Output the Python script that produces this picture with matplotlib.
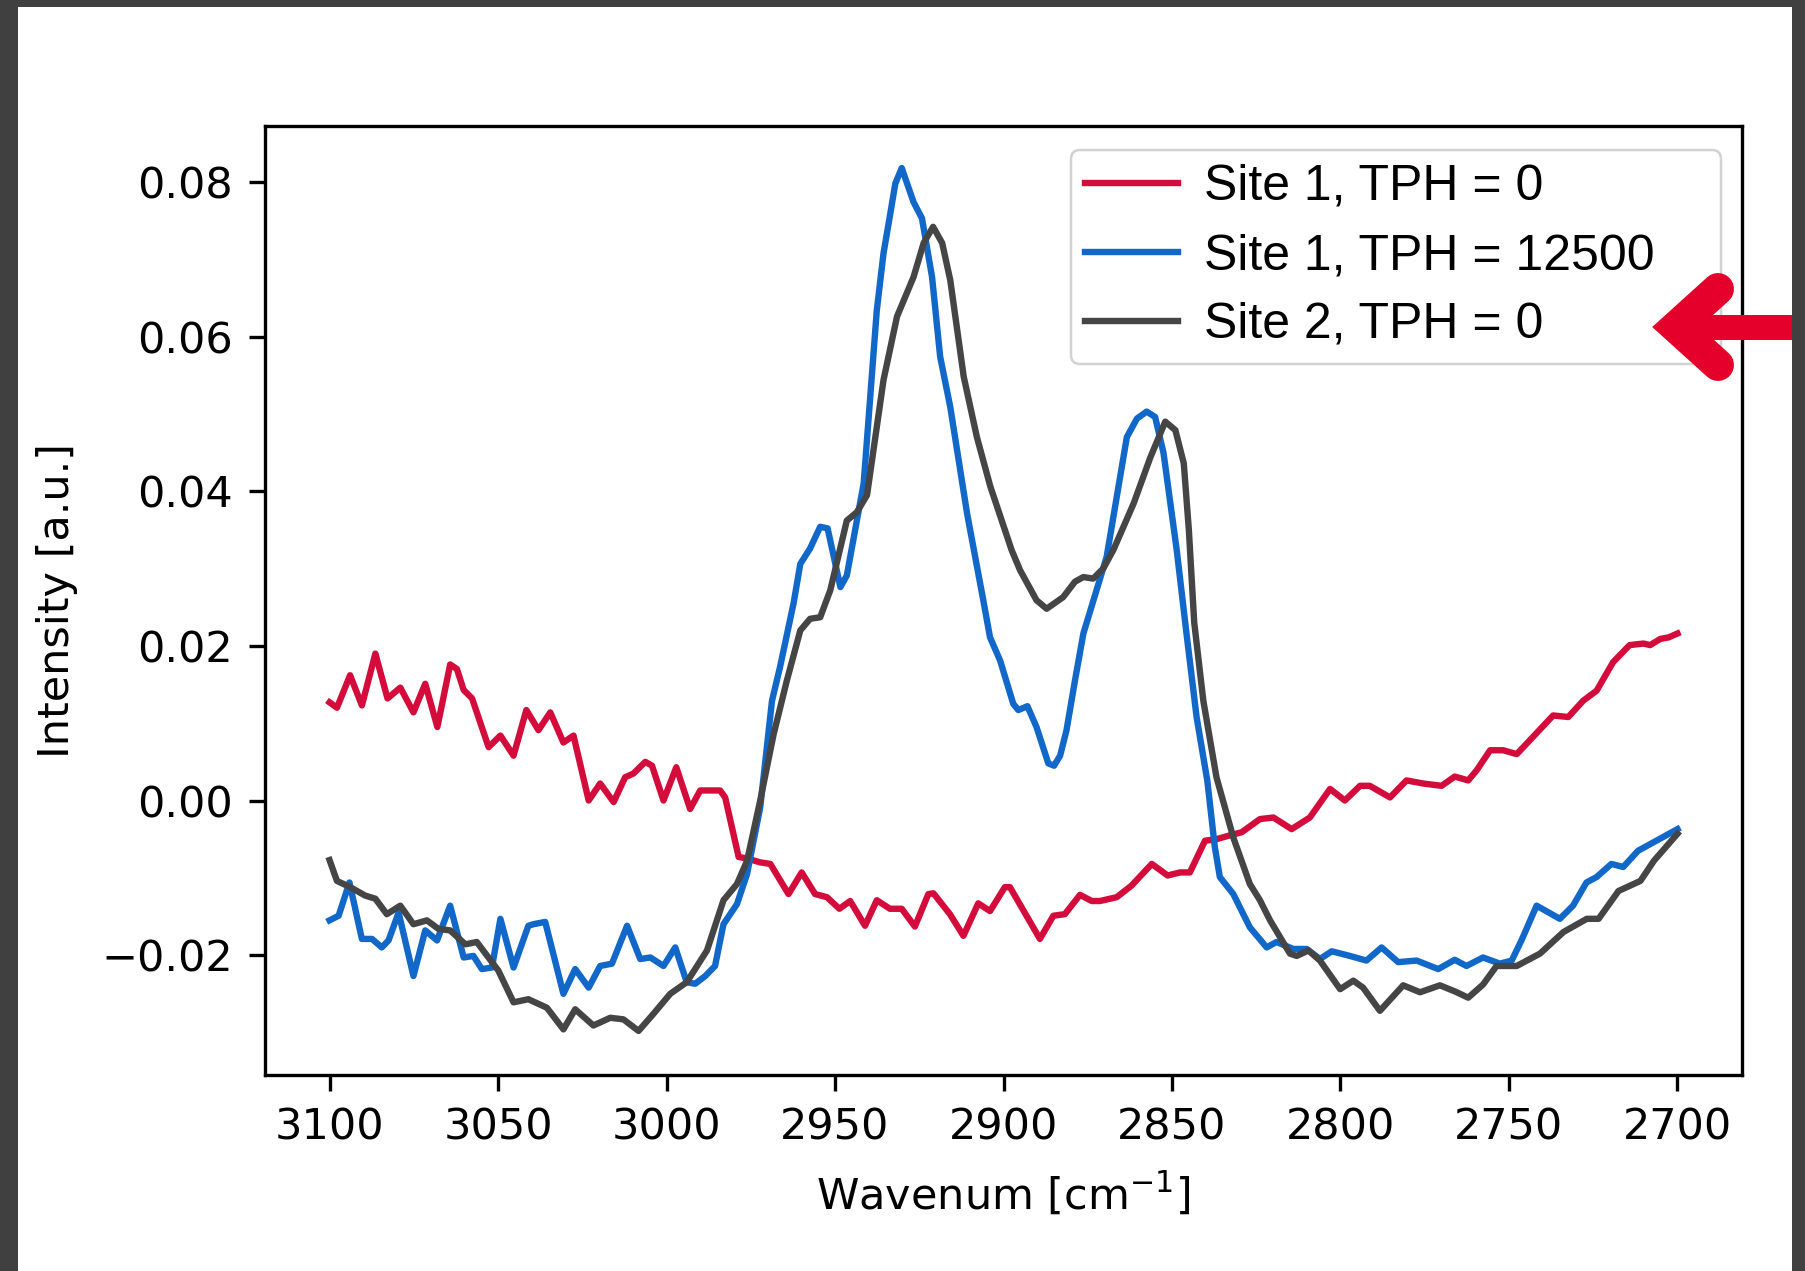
import numpy as np
import matplotlib
matplotlib.use('Agg')
import matplotlib.pyplot as plt
from matplotlib.lines import Line2D
from matplotlib.patches import Rectangle, FancyBboxPatch
from matplotlib.transforms import IdentityTransform


# ---------------- data ----------------
labels = ['Site 1, TPH = 0', 'Site 1, TPH = 12500', 'Site 2, TPH = 0']

red_wn = [3100.0, 3097.8, 3093.9, 3090.4, 3086.4, 3082.8, 3079.0, 3075.1, 3071.6, 3068.0,
          3064.2, 3062.2, 3060.2, 3057.7, 3052.8, 3049.3, 3045.4, 3041.6, 3038.0, 3034.5,
          3030.6, 3027.6, 3023.1, 3019.7, 3015.7, 3012.3, 3009.8, 3006.3, 3004.3, 3000.9,
          2997.1, 2993.0, 2990.0, 2984.1, 2982.6, 2978.6, 2976.1, 2972.2, 2969.2, 2963.8,
          2959.9, 2955.9, 2952.4, 2948.7, 2945.5, 2941.1, 2937.6, 2933.7, 2930.2, 2926.3,
          2922.3, 2920.8, 2915.9, 2911.9, 2907.5, 2904.0, 2899.6, 2898.1, 2889.2, 2885.2,
          2881.8, 2877.3, 2873.8, 2871.4, 2866.4, 2862.0, 2856.0, 2851.3, 2847.6, 2844.7,
          2840.2, 2836.8, 2832.8, 2829.3, 2823.9, 2819.9, 2814.5, 2809.1, 2803.1, 2798.7,
          2794.2, 2791.3, 2785.3, 2780.4, 2775.5, 2770.0, 2766.1, 2762.1, 2759.6, 2755.6,
          2751.7, 2747.7, 2743.8, 2736.9, 2732.4, 2728.0, 2724.0, 2719.1, 2714.2, 2710.1,
          2708.1, 2705.1, 2702.6, 2700.0]
red_val = [0.0127, 0.0120, 0.0162, 0.0123, 0.0190, 0.0132, 0.0146, 0.0114, 0.0151, 0.0095,
           0.0176, 0.0170, 0.0143, 0.0132, 0.0069, 0.0084, 0.0058, 0.0117, 0.0091, 0.0114,
           0.0075, 0.0084, 0.0000, 0.0022, -0.0002, 0.0030, 0.0035, 0.0050, 0.0045, 0.0000,
           0.0043, -0.0011, 0.0013, 0.0013, 0.0004, -0.0073, -0.0075, -0.0080, -0.0082, -0.0121,
           -0.0093, -0.0121, -0.0125, -0.0140, -0.0130, -0.0162, -0.0129, -0.0140, -0.0140, -0.0163,
           -0.0121, -0.0120, -0.0147, -0.0175, -0.0133, -0.0143, -0.0112, -0.0112, -0.0179, -0.0149,
           -0.0147, -0.0122, -0.0130, -0.0130, -0.0125, -0.0110, -0.0082, -0.0097, -0.0093, -0.0093,
           -0.0052, -0.0050, -0.0045, -0.0041, -0.0024, -0.0022, -0.0037, -0.0022, 0.0015, 0.0000,
           0.0019, 0.0019, 0.0004, 0.0026, 0.0022, 0.0019, 0.0031, 0.0026, 0.0039, 0.0065,
           0.0065, 0.0060, 0.0078, 0.0110, 0.0108, 0.0129, 0.0142, 0.0179, 0.0201, 0.0203,
           0.0201, 0.0209, 0.0211, 0.0216]

blue_wn = [3100.0, 3097.3, 3094.1, 3090.4, 3087.4, 3084.5, 3082.5, 3079.5, 3075.1, 3071.6,
           3068.1, 3064.2, 3060.2, 3057.3, 3054.8, 3051.8, 3049.3, 3045.4, 3041.0, 3039.5,
           3036.0, 3030.6, 3027.1, 3023.1, 3019.7, 3016.2, 3011.7, 3007.8, 3004.8, 3000.9,
           2997.4, 2994.0, 2991.5, 2988.5, 2985.6, 2983.1, 2979.1, 2976.1, 2972.2, 2968.7,
           2966.3, 2962.3, 2960.3, 2957.4, 2954.4, 2952.2, 2948.4, 2946.5, 2941.5, 2937.6,
           2935.6, 2933.6, 2932.1, 2930.2, 2926.7, 2924.2, 2921.2, 2918.8, 2915.8, 2910.8,
           2906.0, 2904.0, 2901.0, 2897.1, 2895.6, 2892.9, 2890.2, 2886.7, 2885.0, 2883.2,
           2881.3, 2878.8, 2876.3, 2872.4, 2869.4, 2866.5, 2863.4, 2860.4, 2857.5, 2855.0,
           2852.5, 2848.6, 2845.7, 2842.7, 2839.5, 2837.3, 2835.8, 2831.8, 2826.9, 2821.9,
           2819.0, 2814.0, 2810.0, 2806.1, 2802.6, 2797.2, 2792.3, 2787.8, 2782.9, 2777.4,
           2771.0, 2766.1, 2762.6, 2757.7, 2752.7, 2749.2, 2746.3, 2741.8, 2734.9, 2731.0,
           2727.0, 2724.0, 2719.6, 2716.1, 2711.7, 2707.1, 2700.0]
blue_val = [-0.0155, -0.0149, -0.0106, -0.0179, -0.0179, -0.0190, -0.0181, -0.0145, -0.0227, -0.0168,
            -0.0181, -0.0136, -0.0203, -0.0201, -0.0218, -0.0216, -0.0153, -0.0216, -0.0162, -0.0160,
            -0.0157, -0.0250, -0.0218, -0.0242, -0.0214, -0.0211, -0.0162, -0.0205, -0.0203, -0.0214,
            -0.0190, -0.0235, -0.0237, -0.0227, -0.0214, -0.0160, -0.0134, -0.0095, -0.0009, 0.0129,
            0.0173, 0.0255, 0.0306, 0.0326, 0.0354, 0.0352, 0.0276, 0.0291, 0.0410, 0.0634,
            0.0708, 0.0759, 0.0798, 0.0818, 0.0774, 0.0753, 0.0677, 0.0574, 0.0509, 0.0371,
            0.0259, 0.0211, 0.0181, 0.0125, 0.0117, 0.0122, 0.0095, 0.0048, 0.0045, 0.0058,
            0.0091, 0.0155, 0.0216, 0.0272, 0.0315, 0.0390, 0.0470, 0.0494, 0.0503, 0.0496,
            0.0449, 0.0324, 0.0216, 0.0108, 0.0025, -0.0060, -0.0099, -0.0121, -0.0164, -0.0190,
            -0.0183, -0.0192, -0.0192, -0.0205, -0.0195, -0.0201, -0.0207, -0.0190, -0.0209, -0.0207,
            -0.0218, -0.0206, -0.0214, -0.0203, -0.0211, -0.0207, -0.0181, -0.0136, -0.0153, -0.0136,
            -0.0106, -0.0099, -0.0082, -0.0086, -0.0065, -0.0054, -0.0037]

gray_wn = [3100.0, 3097.8, 3093.9, 3089.4, 3086.4, 3083.0, 3079.0, 3075.1, 3071.1, 3067.7,
           3064.2, 3059.7, 3056.3, 3049.9, 3045.4, 3041.0, 3035.5, 3030.6, 3027.1, 3021.7,
           3016.7, 3012.8, 3008.3, 3003.9, 2998.9, 2994.0, 2988.0, 2983.1, 2979.1, 2976.1,
           2972.2, 2968.2, 2964.3, 2960.3, 2957.4, 2954.4, 2951.4, 2946.5, 2943.5, 2940.5,
           2935.6, 2931.6, 2926.7, 2923.7, 2920.9, 2918.2, 2915.8, 2911.8, 2907.9, 2903.9,
           2897.6, 2895.1, 2890.2, 2887.2, 2882.3, 2878.8, 2876.3, 2873.4, 2870.4, 2867.4,
           2861.4, 2856.4, 2852.0, 2849.0, 2846.5, 2845.0, 2843.4, 2840.7, 2836.8, 2831.8,
           2826.9, 2823.9, 2820.9, 2815.0, 2813.0, 2809.5, 2806.1, 2800.1, 2796.2, 2793.3,
           2788.3, 2781.4, 2776.4, 2770.5, 2766.0, 2762.1, 2757.7, 2753.7, 2747.7, 2740.8,
           2733.8, 2726.9, 2723.4, 2717.5, 2711.0, 2707.0, 2700.0]
gray_val = [-0.0077, -0.0104, -0.0112, -0.0123, -0.0127, -0.0147, -0.0136, -0.0160, -0.0155, -0.0166,
            -0.0168, -0.0186, -0.0183, -0.0220, -0.0261, -0.0257, -0.0268, -0.0296, -0.0270, -0.0291,
            -0.0281, -0.0283, -0.0298, -0.0276, -0.0250, -0.0235, -0.0194, -0.0129, -0.0108, -0.0078,
            0.0000, 0.0086, 0.0155, 0.0220, 0.0235, 0.0237, 0.0272, 0.0362, 0.0373, 0.0395,
            0.0544, 0.0626, 0.0677, 0.0721, 0.0742, 0.0721, 0.0673, 0.0548, 0.0470, 0.0406,
            0.0324, 0.0298, 0.0259, 0.0248, 0.0263, 0.0283, 0.0289, 0.0287, 0.0300, 0.0324,
            0.0384, 0.0444, 0.0490, 0.0479, 0.0436, 0.0350, 0.0230, 0.0129, 0.0030, -0.0048,
            -0.0108, -0.0129, -0.0155, -0.0198, -0.0201, -0.0194, -0.0207, -0.0244, -0.0233, -0.0242,
            -0.0272, -0.0239, -0.0248, -0.0239, -0.0247, -0.0255, -0.0238, -0.0214, -0.0214, -0.0198,
            -0.0170, -0.0153, -0.0153, -0.0117, -0.0104, -0.0078, -0.0043]

colors = ['#d40c3c', '#1268c9', '#454545']

# ---------------- figure ----------------
W, H = 1805, 1271
fig = plt.figure(figsize=(W / 100, H / 100), dpi=100)
fig.patch.set_facecolor('#404040')
fig.add_artist(Rectangle((18 / W, 0), (1792 - 18) / W, 1 - 7 / H,
                         transform=fig.transFigure, facecolor='white',
                         edgecolor='none', zorder=-5))

ax = fig.add_axes([264.5 / W, 1 - 1075 / H, (1741.5 - 264.5) / W, (1075 - 125.5) / H])

series = [(red_wn, red_val), (blue_wn, blue_val), (gray_wn, gray_val)]
handles = []
for (wn, val), c, lab in zip(series, colors, labels):
    h, = ax.plot(wn, val, color=c, lw=4.6, label=lab)
    handles.append(h)

ax.set_xlim(3119.3, 2681.0)
ax.set_ylim(-0.0355, 0.0873)
ax.set_xticks([3100, 3050, 3000, 2950, 2900, 2850, 2800, 2750, 2700])
ax.set_yticks([-0.02, 0.0, 0.02, 0.04, 0.06, 0.08])
ax.set_xlabel('Wavenum [cm$^{-1}$]', fontsize=31, labelpad=16)
ax.set_ylabel('Intensity [a.u.]', fontsize=31, labelpad=17)
ax.tick_params(labelsize=31, length=11.5, width=2.4, pad=11)
for s in ax.spines.values():
    s.set_linewidth(2.4)

# legend: box drawn to the picture's size, entries placed inside it
lfont, lsize = 'Liberation Sans', 36
fs_px = lsize * 100 / 72
fig.add_artist(FancyBboxPatch((1071, H - 364), 1721 - 1071, 364 - 150,
                              boxstyle='round,pad=0,rounding_size=9',
                              transform=IdentityTransform(),
                              facecolor='white', edgecolor='#d2d2d2', lw=1.8, zorder=3))
leg = ax.legend(handles, labels, loc='upper left',
                bbox_to_anchor=(1085, H - 164), bbox_transform=IdentityTransform(),
                frameon=False, borderpad=0, borderaxespad=0,
                prop={'family': lfont, 'size': lsize},
                handlelength=93 / fs_px, handletextpad=26 / fs_px,
                labelspacing=(70 - 0.94 * fs_px) / fs_px)
leg.remove()
fig.add_artist(leg)
leg.set_zorder(4)

# red arrow on the slide, pointing at the third legend entry
arrow_red = '#e4002b'
fig.add_artist(Line2D([1676, 1795], [H - 327, H - 327], transform=IdentityTransform(),
                      color=arrow_red, lw=18, solid_capstyle='butt', zorder=6))
fig.add_artist(Line2D([1718, 1676, 1718], [H - 289, H - 327, H - 365],
                      transform=IdentityTransform(), color=arrow_red, lw=23,
                      solid_capstyle='round', solid_joinstyle='miter', zorder=6))
# slide border on the right drawn over the arrow tail
fig.add_artist(Rectangle((1792 / W, 0), 1 - 1792 / W, 1, transform=fig.transFigure,
                         facecolor='#404040', edgecolor='none', zorder=7))

fig.savefig('out.png', dpi=100, facecolor=fig.get_facecolor())
